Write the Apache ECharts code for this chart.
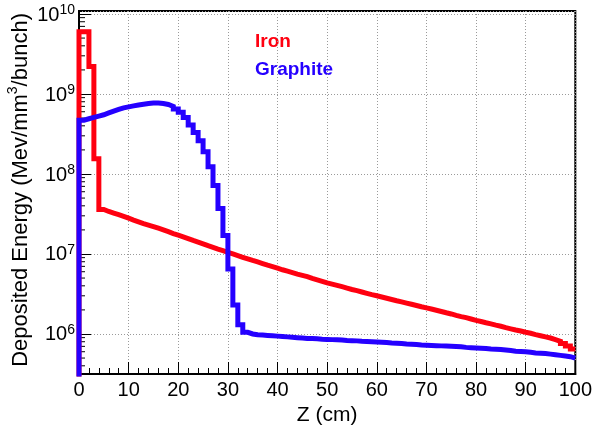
<!DOCTYPE html>
<html>
<head>
<meta charset="utf-8">
<script src="https://cdn.jsdelivr.net/npm/echarts@6/dist/echarts.min.js"></script>
<style>
  html, body { margin: 0; padding: 0; background: #fff; }
  #deposit-chart { width: 595px; height: 431px; }
</style>
</head>
<body>
<div id="deposit-chart"></div>
<script>
// bin lower edges (cm), 1 cm bins from 0 to 100
var zBins = [];
for (var i = 0; i < 100; i++) { zBins.push(i); }

var ironValues = [
  6.0e9, 6.0e9, 2.2e9, 1.55e8, 3.6e7, 3.4e7, 3.25e7, 3.1e7, 2.95e7, 2.8e7,
  2.65e7, 2.52e7, 2.4e7, 2.3e7, 2.2e7, 2.1e7, 2.0e7, 1.9e7, 1.8e7, 1.72e7,
  1.64e7, 1.56e7, 1.48e7, 1.41e7, 1.34e7, 1.27e7, 1.21e7, 1.15e7, 1.1e7, 1.05e7,
  1.0e7, 9.55e6, 9.1e6, 8.7e6, 8.3e6, 7.95e6, 7.6e6, 7.25e6, 6.95e6, 6.65e6,
  6.35e6, 6.1e6, 5.85e6, 5.6e6, 5.4e6, 5.2e6, 4.95e6, 4.75e6, 4.55e6, 4.35e6,
  4.2e6, 4.05e6, 3.9e6, 3.75e6, 3.6e6, 3.48e6, 3.35e6, 3.22e6, 3.1e6, 3.0e6,
  2.9e6, 2.8e6, 2.7e6, 2.6e6, 2.52e6, 2.43e6, 2.35e6, 2.27e6, 2.19e6, 2.12e6,
  2.05e6, 1.98e6, 1.91e6, 1.84e6, 1.78e6, 1.71e6, 1.65e6, 1.6e6, 1.54e6, 1.48e6,
  1.43e6, 1.38e6, 1.34e6, 1.29e6, 1.25e6, 1.2e6, 1.16e6, 1.12e6, 1.09e6, 1.05e6,
  1.02e6, 9.8e5, 9.5e5, 9.2e5, 8.9e5, 8.5e5, 8.1e5, 7.6e5, 7.1e5, 6.5e5
];

var graphiteValues = [
  4.7e8, 4.9e8, 5.1e8, 5.3e8, 5.5e8, 5.8e8, 6.1e8, 6.4e8, 6.7e8, 6.9e8,
  7.1e8, 7.3e8, 7.45e8, 7.6e8, 7.7e8, 7.7e8, 7.6e8, 7.4e8, 7.0e8, 6.5e8,
  5.9e8, 5.1e8, 4.1e8, 3.3e8, 2.6e8, 1.9e8, 1.23e8, 7.2e7, 3.7e7, 1.7e7,
  6.5e6, 2.3e6, 1.3e6, 1.05e6, 1.0e6, 9.8e5, 9.7e5, 9.6e5, 9.5e5, 9.4e5,
  9.3e5, 9.2e5, 9.1e5, 9.0e5, 8.9e5, 8.8e5, 8.75e5, 8.7e5, 8.6e5, 8.55e5,
  8.5e5, 8.45e5, 8.4e5, 8.3e5, 8.25e5, 8.2e5, 8.1e5, 8.05e5, 8.0e5, 7.95e5,
  7.9e5, 7.8e5, 7.7e5, 7.65e5, 7.6e5, 7.5e5, 7.45e5, 7.4e5, 7.3e5, 7.25e5,
  7.2e5, 7.15e5, 7.1e5, 7.05e5, 7.0e5, 6.95e5, 6.9e5, 6.8e5, 6.75e5, 6.7e5,
  6.65e5, 6.6e5, 6.5e5, 6.45e5, 6.4e5, 6.3e5, 6.2e5, 6.1e5, 6.05e5, 6.0e5,
  5.9e5, 5.8e5, 5.75e5, 5.7e5, 5.6e5, 5.5e5, 5.4e5, 5.3e5, 5.2e5, 5.0e5
];

var xTickLabels = ['0', '10', '20', '30', '40', '50', '60', '70', '80', '90', '100'];
var yDecades = [6, 7, 8, 9, 10];

var yMin = 3.16e5;
var yMax = 1.09e10;

// ROOT style minor ticks at 2..9 x 10^n
var yMinorTicks = [];
for (var d = 5; d <= 9; d++) {
  for (var k = 2; k <= 9; k++) {
    var v = k * Math.pow(10, d);
    if (v > yMin && v < yMax) { yMinorTicks.push(v); }
  }
}

// histogram outline: start from below the axis for the left edge, close at 100
function histPoints(values) {
  var pts = [[zBins[0], 1e5]];
  for (var j = 0; j < values.length; j++) {
    pts.push([zBins[j], values[j]]);
  }
  pts.push([100, values[values.length - 1]]);
  return pts;
}

var FONT = 'Liberation Sans, Arial, Helvetica, sans-serif';

var depositChart = echarts.init(document.getElementById('deposit-chart'));
var depositOptions = {
  animation: false,
  grid: {
    left: 79,
    right: 17,
    top: 11,
    bottom: 53,
    show: true,
    borderColor: '#000',
    borderWidth: 2
  },
  xAxis: {
    type: 'value',
    min: 0,
    max: 100,
    interval: 10,
    name: 'Z (cm)',
    nameLocation: 'middle',
    nameGap: 31,
    nameTextStyle: { fontFamily: FONT, fontSize: 21, color: '#000' },
    axisLine: { lineStyle: { color: '#000', width: 2 } },
    axisTick: { inside: true, length: 12, lineStyle: { color: '#000' } },
    minorTick: { show: true, splitNumber: 5, length: 6, lineStyle: { color: '#000' } },
    splitLine: { show: true, lineStyle: { color: '#9a9a9a', type: [1, 2], width: 1 } },
    axisLabel: {
      margin: 6,
      fontFamily: FONT,
      fontSize: 20,
      color: '#000',
      formatter: function (val) { return xTickLabels[Math.round(val / 10)]; }
    }
  },
  yAxis: {
    type: 'log',
    logBase: 10,
    min: yMin,
    max: yMax,
    axisLine: { lineStyle: { color: '#000', width: 2 } },
    axisTick: { inside: true, length: 12, lineStyle: { color: '#000' } },
    splitLine: { show: true, lineStyle: { color: '#9a9a9a', type: [1, 2], width: 1 } },
    axisLabel: {
      margin: 4,
      showMinLabel: false,
      showMaxLabel: false,
      fontFamily: FONT,
      color: '#000',
      formatter: function (val) {
        var e = Math.round(Math.log(val) / Math.LN10);
        if (yDecades.indexOf(e) < 0) { return ''; }
        return '{b|10}{s|' + e + '}';
      },
      rich: {
        b: { fontFamily: FONT, fontSize: 20, color: '#000', lineHeight: 22, verticalAlign: 'bottom' },
        s: { fontFamily: FONT, fontSize: 14, color: '#000', lineHeight: 22, verticalAlign: 'top' }
      }
    }
  },
  graphic: [
    {
      type: 'text',
      x: 19,
      y: 13,
      rotation: Math.PI / 2,
      style: {
        text: '{a|Deposited Energy (Mev/mm}{s|3}{a|/bunch)}',
        align: 'right',
        verticalAlign: 'middle',
        rich: {
          a: { fontFamily: FONT, fontSize: 22, fill: '#000', lineHeight: 26, verticalAlign: 'bottom' },
          s: { fontFamily: FONT, fontSize: 14, fill: '#000', lineHeight: 26, verticalAlign: 'top' }
        }
      }
    },
    {
      type: 'text',
      left: 255,
      top: 32,
      style: { text: 'Iron', fontFamily: FONT, fontWeight: 'bold', fontSize: 19, fill: '#ff0010' }
    },
    {
      type: 'text',
      left: 255,
      top: 60,
      style: { text: 'Graphite', fontFamily: FONT, fontWeight: 'bold', fontSize: 19, fill: '#2500ff' }
    }
  ],
  series: [
    {
      type: 'custom',
      silent: true,
      data: yMinorTicks.map(function (v) { return [0, v]; }),
      encode: { x: 0, y: 1 },
      renderItem: function (params, api) {
        var p = api.coord([0, api.value(1)]);
        return {
          type: 'line',
          shape: { x1: p[0], y1: p[1], x2: p[0] + 6, y2: p[1] },
          style: { stroke: '#000', lineWidth: 1 }
        };
      }
    },
    {
      name: 'Iron',
      type: 'line',
      step: 'end',
      showSymbol: false,
      data: histPoints(ironValues),
      lineStyle: { color: '#ff0010', width: 5, join: 'miter', cap: 'butt' }
    },
    {
      name: 'Graphite',
      type: 'line',
      step: 'end',
      showSymbol: false,
      data: histPoints(graphiteValues),
      lineStyle: { color: '#2500ff', width: 5, join: 'miter', cap: 'butt' }
    }
  ]
};
depositChart.setOption(depositOptions, true);
</script>
</body>
</html>
